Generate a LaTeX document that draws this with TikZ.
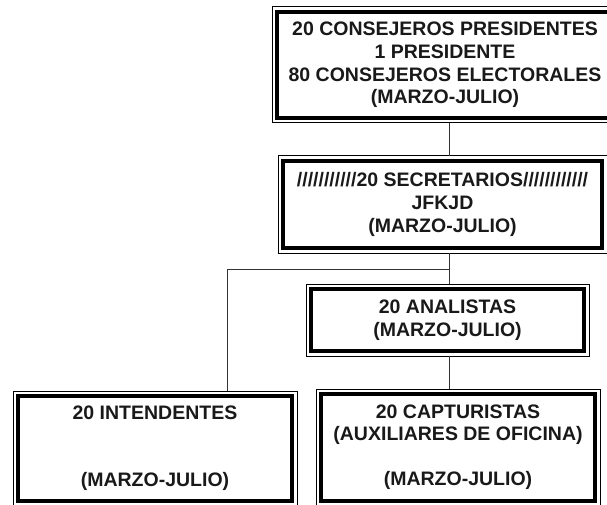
\documentclass[tikz,border=0pt]{standalone}
\usepackage{fontspec}
\setmainfont{Liberation Sans}
\begin{document}
\begin{tikzpicture}[x=1pt,y=-1pt,
  orgbox/.style={draw=black, line width=4pt, fill=white, rectangle, inner sep=0pt,
    outer sep=5pt, align=center, text=black!90,
    font=\fontsize{19.5}{22.6}\selectfont\bfseries},
  frame/.style={draw=black, line width=1pt},
  conn/.style={draw=black!80, line width=1pt}]
\useasboundingbox (0,0) rectangle (607,505);
\clip (0,0) rectangle (607,505);
\fill[white] (0,0) rectangle (607,505);
% named coordinates for connector routing
\coordinate (trunk) at (449,269);
\coordinate (leftx) at (227,269);
% boxes
\node[orgbox, minimum width=336pt, minimum height=106pt] (top) at (445,65)
  {20 CONSEJEROS PRESIDENTES\\1 PRESIDENTE\\80 CONSEJEROS ELECTORALES\\(MARZO-JULIO)};
\node[orgbox, minimum width=319pt, minimum height=87pt] (sec) at (442.5,204.5)
  {///////////20 SECRETARIOS////////////\\JFKJD\\(MARZO-JULIO)};
\node[orgbox, minimum width=273pt, minimum height=62pt] (ana) at (447.5,320)
  {20 ANALISTAS\\(MARZO-JULIO)};
\node[orgbox, minimum width=274pt, minimum height=104.5pt] (int) at (155,448.25)
  {20 INTENDENTES\\[22pt]\strut\\(MARZO-JULIO)};
\node[orgbox, minimum width=274pt, minimum height=106.5pt] (cap) at (458,447.25)
  {20 CAPTURISTAS\\(AUXILIARES DE OFICINA)\\\strut\\(MARZO-JULIO)};
% outer thin frames
\foreach \n in {top,sec,ana,int,cap}
  \draw[frame] (\n.north west) rectangle (\n.south east);
% connectors
\draw[conn] (top.south -| trunk) -- (sec.north -| trunk);
\draw[conn] (sec.south -| trunk) -- (ana.north -| trunk);
\draw[conn] (trunk) -- (leftx) -- (int.north -| leftx);
\draw[conn] (ana.south -| trunk) -- (cap.north -| trunk);
\end{tikzpicture}
\end{document}
